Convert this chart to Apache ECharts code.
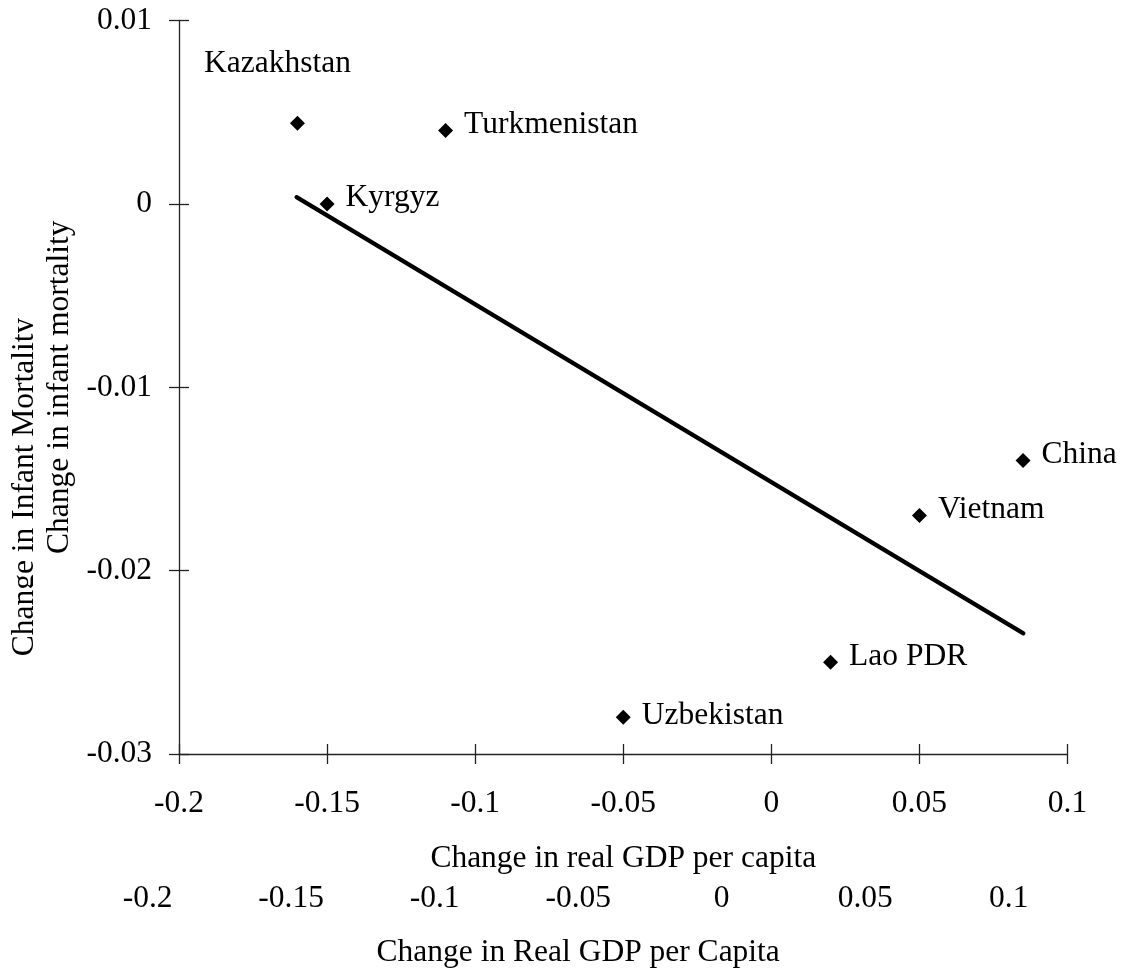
<!DOCTYPE html>
<html>
<head>
<meta charset="utf-8">
<script src="https://cdn.jsdelivr.net/npm/echarts@6/dist/echarts.min.js"></script>
<style>
html,body{margin:0;padding:0;background:#fff;}
#chart{width:1122px;height:974px;}
</style>
</head>
<body>
<div id="chart"></div>
<script>
// ---- data ----
const countries = ['Kazakhstan', 'Turkmenistan', 'Kyrgyz', 'China', 'Vietnam', 'Lao PDR', 'Uzbekistan'];
const gdpChange = [-0.16, -0.11, -0.15, 0.085, 0.05, 0.02, -0.05];
const mortalityChange = [0.0044, 0.004, 0.0, -0.014, -0.017, -0.025, -0.028];
const trendX = [-0.1603, 0.0851];
const trendY = [0.00037, -0.02342];
const xTicks = [-0.2, -0.15, -0.1, -0.05, 0, 0.05, 0.1];
const yTicks = [0.01, 0, -0.01, -0.02, -0.03];

// ---- styles ----
const FONT = 'Liberation Serif';
const FS = 31.5;
const labelStyle = {
  Kazakhstan: { position: 'top', distance: 36, offset: [-20, 0] },
  Uzbekistan: { position: 'right', distance: 11, offset: [0, -2] }
};
const defaultLabel = { position: 'right', distance: 11, offset: [0, -6] };
const txt = { fontFamily: FONT, fontSize: FS, color: '#000' };

const points = countries.map((c, i) => {
  const l = labelStyle[c] || defaultLabel;
  return {
    name: c,
    value: [gdpChange[i], mortalityChange[i]],
    label: Object.assign({ show: true, formatter: c, position: l.position, distance: l.distance, offset: l.offset }, txt)
  };
});

const round = v => +(+v).toFixed(6);
const xMin = Math.min(...xTicks), xMax = Math.max(...xTicks);
const yMin = Math.min(...yTicks), yMax = Math.max(...yTicks);
const xInt = round(xTicks[1] - xTicks[0]);
const yInt = round(yTicks[0] - yTicks[1]);
const fmt = v => String(round(v));

const tickStyle = { color: '#222', width: 1.3 };

const chart = echarts.init(document.getElementById('chart'));
chart.setOption({
  backgroundColor: '#fff',
  animation: false,
  grid: [
    { left: 179, right: 54.5, top: 20.5, bottom: 220, containLabel: false },
    { left: 147.6, right: 113.2, top: 125, bottom: 119, containLabel: false }
  ],
  graphic: [{
    type: 'rect', z: 1, silent: true,
    shape: { x: 33, y: 0, width: 1100, height: 880 },
    style: { fill: '#fff' }
  }],
  xAxis: [
    {
      type: 'value', gridIndex: 0, min: xMin, max: xMax, interval: xInt, z: 5,
      name: 'Change in real GDP per capita', nameLocation: 'middle', nameGap: 89,
      nameTextStyle: txt,
      axisLine: { show: true, onZero: false, lineStyle: tickStyle },
      axisTick: { show: true, length: 10, lineStyle: tickStyle },
      axisLabel: Object.assign({ margin: 34, formatter: fmt }, txt),
      splitLine: { show: false }
    },
    {
      type: 'value', gridIndex: 0, position: 'bottom', min: xMin, max: xMax, interval: xInt, z: 5,
      axisLine: { show: false, onZero: false },
      axisTick: { show: true, inside: true, length: 10, lineStyle: tickStyle },
      axisLabel: { show: false },
      splitLine: { show: false }
    },
    {
      type: 'value', gridIndex: 1, position: 'bottom', min: xMin, max: xMax, interval: xInt, z: 0,
      name: 'Change in Real GDP per Capita', nameLocation: 'middle', nameGap: 88,
      nameTextStyle: txt,
      axisLine: { show: false, onZero: false },
      axisTick: { show: false },
      axisLabel: Object.assign({ margin: 34, formatter: fmt }, txt),
      splitLine: { show: false }
    }
  ],
  yAxis: [
    {
      type: 'value', gridIndex: 0, min: yMin, max: yMax, interval: yInt, z: 5,
      name: 'Change in infant mortality', nameLocation: 'middle', nameGap: 103, nameRotate: 90,
      nameTextStyle: txt,
      axisLine: { show: true, onZero: false, lineStyle: tickStyle },
      axisTick: { show: true, length: 10, lineStyle: tickStyle },
      axisLabel: Object.assign({ margin: 27, formatter: fmt }, txt),
      splitLine: { show: false }
    },
    {
      type: 'value', gridIndex: 0, position: 'left', min: yMin, max: yMax, interval: yInt, z: 5,
      axisLine: { show: false, onZero: false },
      axisTick: { show: true, inside: true, length: 10, lineStyle: tickStyle },
      axisLabel: { show: false },
      splitLine: { show: false }
    },
    {
      type: 'value', gridIndex: 1, min: yMin, max: yMax, interval: yInt, z: 0,
      name: 'Change in Infant Mortality', nameLocation: 'middle', nameGap: 107, nameRotate: 90,
      nameTextStyle: txt,
      axisLine: { show: false, onZero: false },
      axisTick: { show: false },
      axisLabel: { show: false },
      splitLine: { show: false }
    }
  ],
  series: [
    {
      type: 'line', xAxisIndex: 0, yAxisIndex: 0, z: 8,
      data: trendX.map((x, i) => [x, trendY[i]]),
      showSymbol: false, symbol: 'none',
      lineStyle: { color: '#000', width: 4.2, cap: 'round' },
      silent: true
    },
    {
      type: 'scatter', xAxisIndex: 0, yAxisIndex: 0, z: 10,
      symbol: 'diamond', symbolSize: 15,
      itemStyle: { color: '#000', opacity: 1 },
      label: Object.assign({ show: true }, txt),
      data: points
    }
  ]
});
</script>
</body>
</html>
